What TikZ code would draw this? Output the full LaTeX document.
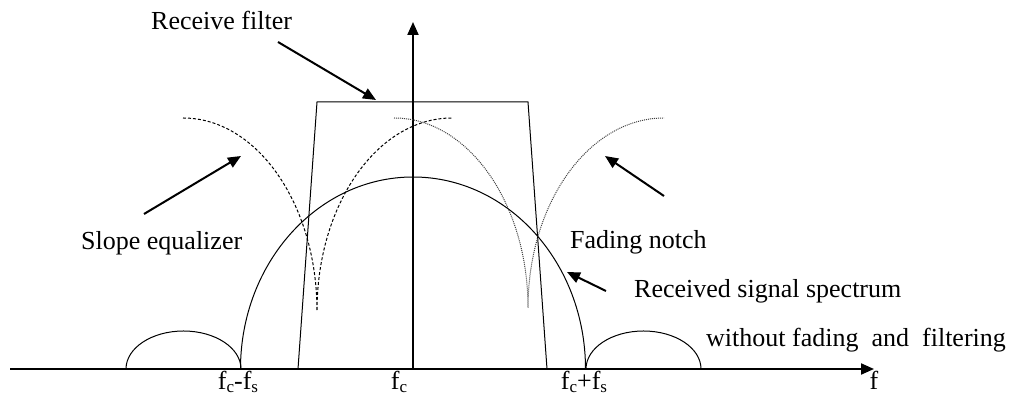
\documentclass[tikz,border=0pt]{standalone}
\usepackage{fontspec}
\setmainfont{Liberation Serif}
\usetikzlibrary{arrows.meta}
\newcommand\lsub[1]{\raisebox{-2.5pt}{\fontsize{17}{17}\selectfont #1}}
\begin{document}
\begin{tikzpicture}[x=1pt,y=1pt,
  lbl/.style={inner sep=0pt,font=\fontsize{26}{28}\selectfont},
  axis/.style={line width=2pt,-{Triangle[length=13pt,width=11pt]}},
  pointer/.style={line width=2pt,-{Triangle[length=13pt,width=11pt]}},
  curve/.style={line width=1pt},
  eqdash/.style={line width=1pt,dash pattern=on 3pt off 2pt},
  notchdot/.style={line width=1pt,dash pattern=on 1pt off 1pt,black!75}]
\useasboundingbox (0,0) rectangle (1023,398);
% axes
\coordinate (xa0) at (10,29);
\coordinate (xa1) at (874,29);
\coordinate (ya0) at (413,29);
\coordinate (ya1) at (413,376);
\draw[axis] (xa0) -- (xa1);
\draw[axis] (ya0) -- (ya1);
% receive filter
\coordinate (rf1) at (298,29);
\coordinate (rf2) at (317,296);
\coordinate (rf3) at (528,296);
\coordinate (rf4) at (547,29);
\draw[curve] (rf1) -- (rf2) -- (rf3) -- (rf4);
% received spectrum
\draw[curve] (240.5,29) arc[start angle=180,end angle=0,x radius=172.5,y radius=192];
\draw[curve] (126,29) arc[start angle=180,end angle=0,x radius=57.5,y radius=38];
\draw[curve] (586,29) arc[start angle=180,end angle=0,x radius=57.5,y radius=38];
% slope equalizer (dashed)
\draw[eqdash] (183,280) arc[start angle=90,end angle=0,x radius=134,y radius=193]
  arc[start angle=180,end angle=90,x radius=135,y radius=193];
% fading notch (dotted)
\draw[notchdot] (394,280) arc[start angle=90,end angle=0,x radius=134,y radius=190]
  arc[start angle=180,end angle=90,x radius=136,y radius=190];
% labels
\node[lbl,anchor=base west] (trf) at (151,368) {Receive filter};
\node[lbl,anchor=base west] (tse) at (81,148) {Slope equalizer};
\node[lbl,anchor=base west] (tfn) at (570,149) {Fading notch};
\node[lbl,anchor=base west] (trs) at (634,100) {Received signal spectrum};
\node[lbl,anchor=base west] (two) at (706,51) {without fading\ \ and\ \ filtering};
\node[lbl,anchor=base] (tfm) at (238,8) {f\lsub{c}-f\lsub{s}};
\node[lbl,anchor=base] (tfc) at (399,8) {f\lsub{c}};
\node[lbl,anchor=base] (tfp) at (584,8) {f\lsub{c}+f\lsub{s}};
\node[lbl,anchor=base] (tf) at (874,8) {f};
% pointers
\coordinate (p1a) at (278,356); \coordinate (p1b) at (376,298);
\coordinate (p2a) at (144,184); \coordinate (p2b) at (241,242);
\coordinate (p3a) at (664,202); \coordinate (p3b) at (605,242);
\coordinate (p4a) at (606,107); \coordinate (p4b) at (567,126);
\draw[pointer] (p1a) -- (p1b);
\draw[pointer] (p2a) -- (p2b);
\draw[pointer] (p3a) -- (p3b);
\draw[pointer] (p4a) -- (p4b);
\end{tikzpicture}
\end{document}
